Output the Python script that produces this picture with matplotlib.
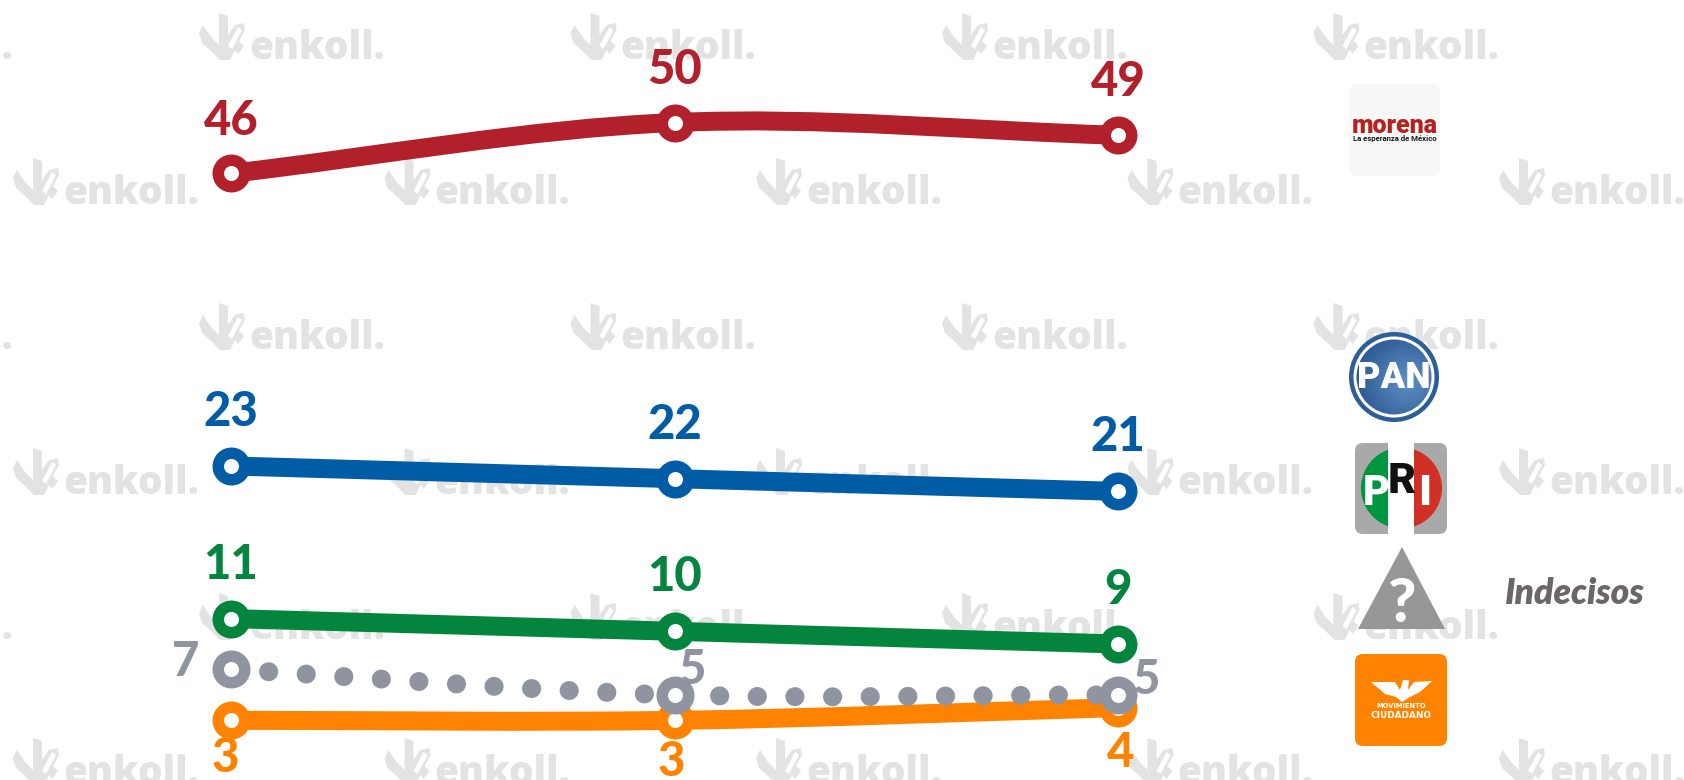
import matplotlib
matplotlib.use("Agg")
import matplotlib.pyplot as plt
import numpy as np
from matplotlib.colors import LinearSegmentedColormap
from matplotlib.patches import Circle, FancyBboxPatch, PathPatch, Polygon, Rectangle, Wedge
from matplotlib.path import Path

W, H = 1684, 780

waves = [0, 1, 2]
morena = [46, 50, 49]
pan = [23, 22, 21]
pri = [11, 10, 9]
indecisos = [7, 5, 5]
mc = [3, 3, 4]

# label offsets in px (dx, dy downwards), colours and draw order
series = [
    ("morena", morena, "#b2202c", "-", [(0, -52), (0, -53), (0, -53)]),
    ("pan", pan, "#005ca5", "-", [(0, -54), (0, -54), (0, -54)]),
    ("pri", pri, "#03853e", "-", [(0, -54), (0, -54), (0, -54)]),
    ("mc", mc, "#ff8300", "-", [(-6, 38), (-3, 42), (3, 45)]),
    ("indecisos", indecisos, "#8f94a0", ":", [(-45, -7), (17, -25), (28, -15)]),
]


def smooth_path(x, y):
    # smooth line through the points, same as the office "smoothed line"
    x = np.asarray(x, dtype=float)
    y = np.asarray(y, dtype=float)
    slope = np.gradient(y, x)
    verts = [(x[0], y[0])]
    codes = [Path.MOVETO]
    for i in range(len(x) - 1):
        d = (x[i + 1] - x[i]) / 3
        verts += [(x[i] + d, y[i] + slope[i] * d), (x[i + 1] - d, y[i + 1] - slope[i + 1] * d), (x[i + 1], y[i + 1])]
        codes += [Path.CURVE4] * 3
    return Path(verts, codes)


fig = plt.figure(figsize=(W / 100, H / 100), dpi=100, facecolor="white")

# background layer in pixels: watermark and party logos
bg = fig.add_axes([0, 0, 1, 1])
bg.set_xlim(0, W)
bg.set_ylim(H, 0)
bg.axis("off")

mark = np.array([(0, 20), (4, 12), (12, 24), (20, 32), (20, 0), (29, 3), (29, 22), (36, 12), (45, 10), (46, 17),
                 (40, 28), (45, 33), (39, 41), (36, 37), (31, 47), (21, 47), (12, 38), (3, 30)])
slash = np.array([(39, 14), (43, 17), (33, 36), (29, 33)])
for row in range(6):
    start = 199 if row % 2 == 0 else 13
    for col in range(-1, 5):
        x0 = start + col * 371.5
        y0 = 13 + row * 145
        bg.add_patch(Polygon(mark + (x0, y0), fc="#e3e3e3", ec="none", zorder=1))
        bg.add_patch(Polygon(slash + (x0, y0), fc="white", ec="none", zorder=1))
        bg.text(x0 + 50, y0 + 46, "enkoll.", family="Open Sans", weight=800, fontsize=28,
                color="#e3e3e3", ha="left", va="baseline", zorder=1)


def rounded(x0, y0, x1, y1, color, z=3):
    r = 8
    bg.add_patch(FancyBboxPatch((x0 + r, y0 + r), x1 - x0 - 2 * r, y1 - y0 - 2 * r,
                                boxstyle=f"round,pad={r},rounding_size={r}", fc=color, ec="none", zorder=z))


# morena
rounded(1349, 84, 1440, 176, "#f8f8f8")
bg.text(1394.5, 133, "morena", family="Roboto", weight=900, fontsize=18, color="#b5211f",
        ha="center", va="baseline", zorder=4)
bg.text(1394.5, 141, "La esperanza de México", family="Roboto", weight="bold", fontsize=5.6,
        color="#1a1a1a", ha="center", va="baseline", zorder=4)

# PAN
cx, cy = 1394, 377
bg.add_patch(Circle((cx, cy), 45, fc="#2c5f98", ec="none", zorder=3))
bg.add_patch(Circle((cx, cy), 40.5, fc="white", ec="none", zorder=3))
disc = Circle((cx, cy), 37.5, fc="none", ec="none", zorder=3)
bg.add_patch(disc)
gy, gx = np.mgrid[-1:1:80j, -1:1:80j]
shade = np.clip(np.hypot(gx - 0.35, gy - 0.1), 0, 1.4)
img = bg.imshow(shade, extent=(cx - 38, cx + 38, cy + 38, cy - 38), zorder=3, aspect="auto",
                cmap=LinearSegmentedColormap.from_list("pan", ["#5f8fc4", "#2c5792"]))
img.set_clip_path(disc)
bg.set_xlim(0, W)
bg.set_ylim(H, 0)
bg.text(cx, cy + 1, "PAN", family="Roboto", weight=900, fontsize=26, color="white",
        ha="center", va="center", zorder=4)

# PRI
rounded(1355, 443, 1447, 534, "#a9a9a9")
bg.add_patch(Wedge((1401.5, 488), 40.5, 90, 270, fc="#00963f", ec="none", zorder=4))
bg.add_patch(Wedge((1401.5, 488), 40.5, -90, 90, fc="#d22f27", ec="none", zorder=4))
bg.add_patch(Rectangle((1388, 443), 26, 91, fc="white", ec="none", zorder=4))
bg.text(1376, 505, "P", family="Roboto", weight=900, fontsize=30, color="white",
        ha="center", va="baseline", zorder=5)
bg.text(1402, 493, "R", family="Roboto", weight=900, fontsize=31, color="#111111",
        ha="center", va="baseline", zorder=5)
bg.text(1425, 505, "I", family="Roboto", weight=900, fontsize=31, color="white",
        ha="center", va="baseline", zorder=5)

# undecided
bg.add_patch(Polygon([(1402, 547), (1358, 629), (1445, 629)], fc="#979797", ec="none", zorder=3))
bg.text(1402, 622, "?", family="Lato", weight=900, fontsize=44, color="white", ha="center", va="baseline", zorder=4)
bg.text(1505, 604, "Indecisos", family="Lato", weight=800, style="italic", fontsize=25.5, color="#6b6767",
        ha="left", va="baseline", zorder=4)

# Movimiento Ciudadano
rounded(1355, 654, 1447, 746, "#ff8300")
wings = [(1371, 682), (1395, 682), (1400, 690), (1403, 680), (1409, 680), (1408, 690), (1414, 682), (1432, 681),
         (1420, 692), (1410, 697), (1402, 702), (1396, 697), (1385, 694)]
bg.add_patch(Polygon(wings, fc="white", ec="none", zorder=4))
bg.text(1401, 708.5, "MOVIMIENTO", family="DejaVu Sans", weight="bold", fontsize=4.8, color="white",
        ha="center", va="baseline", zorder=4)
bg.text(1401, 718, "CIUDADANO", family="DejaVu Sans", weight="bold", fontsize=6.4, color="white",
        ha="center", va="baseline", zorder=4)

# the chart itself, on top of the watermark
ax = fig.add_axes([0, 0, 1, 1], facecolor="none")
ax.set_xlim(-231 / 443.5, (W - 231) / 443.5)
ax.set_ylim((758.5 - H) / 12.72, 758.5 / 12.72)
ax.axis("off")

px = 0.72  # points per pixel at dpi 100
for name, values, color, style, offsets in series:
    z = 6 if style == ":" else 5
    if style == ":":
        patch = PathPatch(smooth_path(waves, values), fc="none", ec=color, lw=19 * px, capstyle="round",
                          linestyle=(0, (0.01, 37.45 / 19)), zorder=z)
    else:
        patch = PathPatch(smooth_path(waves, values), fc="none", ec=color, lw=19 * px, capstyle="butt", zorder=z)
    ax.add_patch(patch)
    ax.plot(waves, values, ls="none", marker="o", ms=38 * px, mfc=color, mec="none", zorder=z)
    ax.plot(waves, values, ls="none", marker="o", ms=15 * px, mfc="white", mec="none", zorder=z)
    for xv, yv, (dx, dy) in zip(waves, values, offsets):
        ax.annotate(str(yv), (xv, yv), xytext=(dx * px, -dy * px), textcoords="offset points", family="Lato",
                    weight=900, fontsize=34, color=color, ha="center", va="center", zorder=7)

fig.savefig("out.png", dpi=100)
